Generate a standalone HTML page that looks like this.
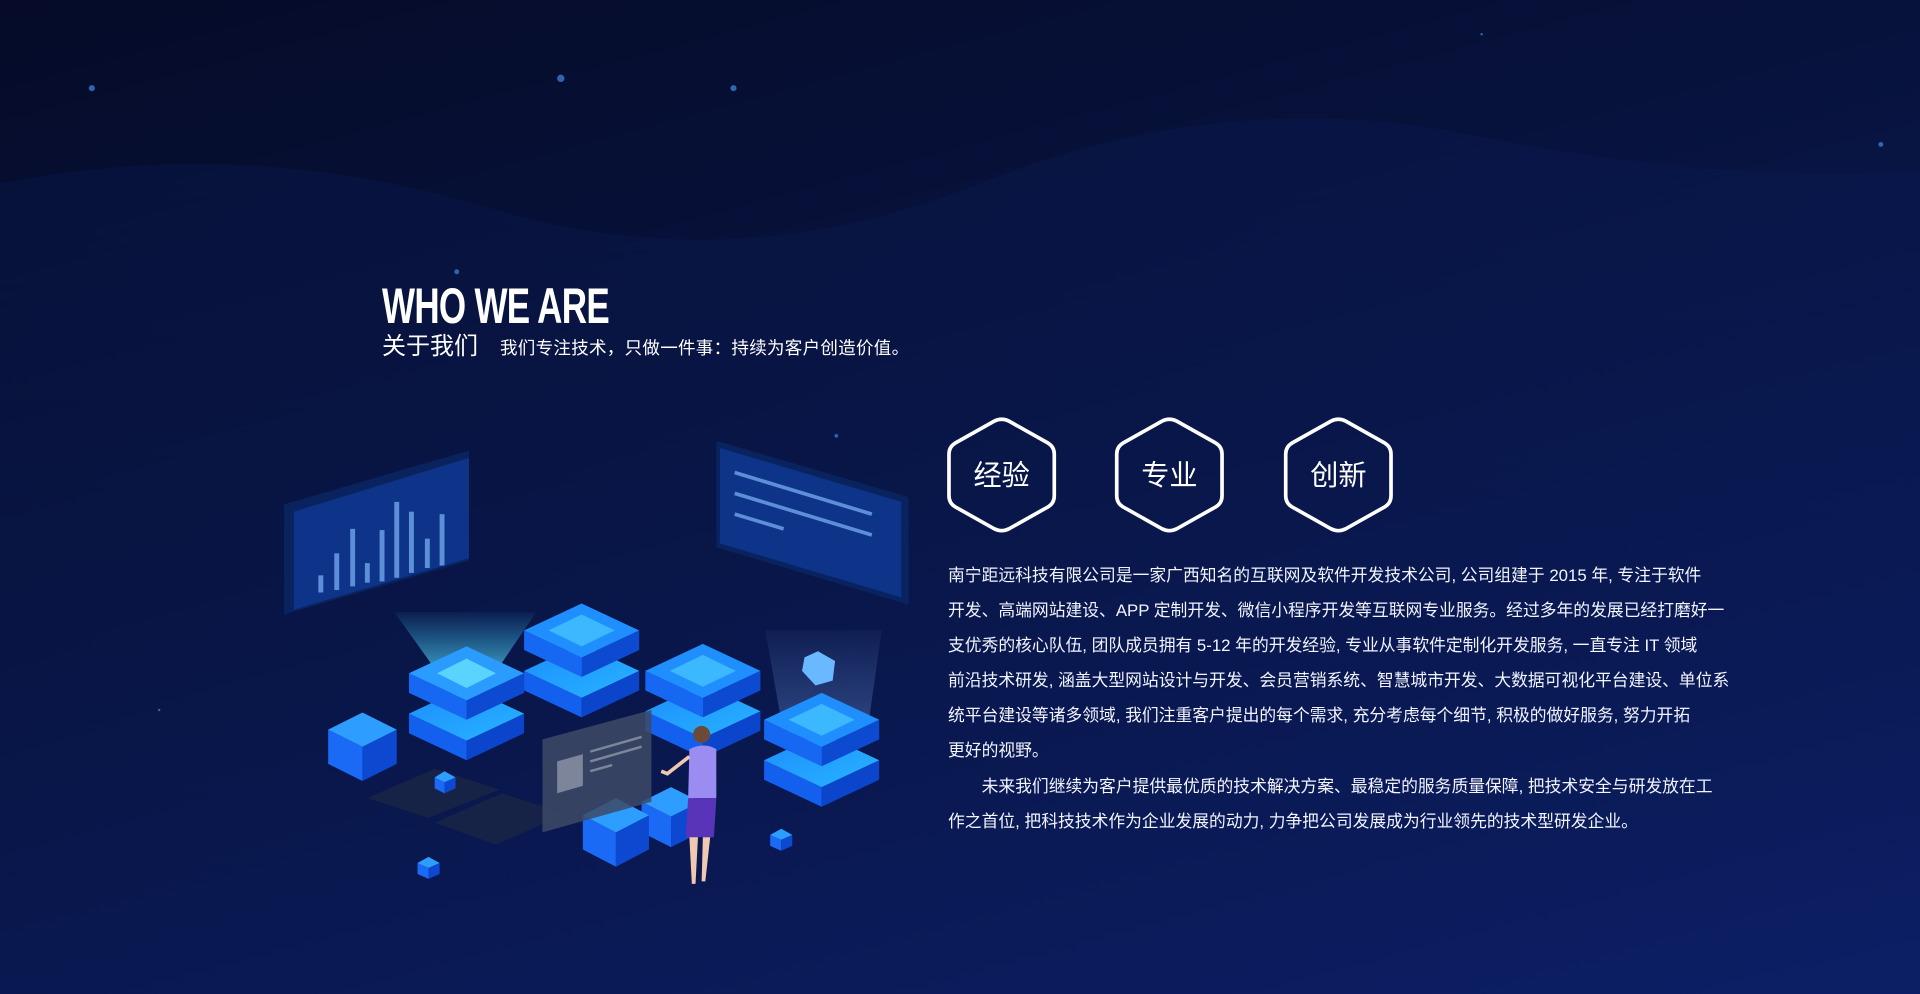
<!DOCTYPE html>
<html><head><meta charset="utf-8">
<style>
html,body{margin:0;padding:0}
body{width:1920px;height:994px;overflow:hidden;position:relative;
background:linear-gradient(165deg,#050b28 0%,#07123c 35%,#0a1a56 75%,#0c1f66 100%);
font-family:"Liberation Sans","Noto Sans CJK SC",sans-serif;color:#fff}
svg.bg{position:absolute;left:0;top:0}
.t1{position:absolute;left:382px;top:278px;font-size:50px;font-weight:bold;transform:scaleX(0.7);transform-origin:left top;letter-spacing:-1px;line-height:56px}
.t2{position:absolute;left:382px;top:332px;font-size:24px;line-height:30px}
.t3{position:absolute;left:500px;top:336px;font-size:17.5px;line-height:24px;letter-spacing:0.3px}
.p{position:absolute;left:948px;top:558px;font-size:16.8px;line-height:35.1px;white-space:nowrap;color:#f2f4ff}
</style></head><body>
<svg class="bg" width="1920" height="994" viewBox="0 0 1568 812" preserveAspectRatio="none">
<defs>
<linearGradient id="wave" x1="0" y1="0" x2="0" y2="1"><stop offset="0" stop-color="#0a1a55" stop-opacity="0.35"/><stop offset="1" stop-color="#0a1a55" stop-opacity="0"/></linearGradient>
<linearGradient id="beam" x1="0" y1="0" x2="0" y2="1"><stop offset="0" stop-color="#3fd8ff" stop-opacity="0.05"/><stop offset="1" stop-color="#5fe0ff" stop-opacity="0.75"/></linearGradient>
<linearGradient id="beam2" x1="0" y1="0" x2="0" y2="1"><stop offset="0" stop-color="#8ab8ff" stop-opacity="0.05"/><stop offset="1" stop-color="#8ab8ff" stop-opacity="0.3"/></linearGradient>
<linearGradient id="top" x1="0" y1="0" x2="1" y2="1"><stop offset="0" stop-color="#1d8cff"/><stop offset="1" stop-color="#27b4ff"/></linearGradient>
</defs>
<path d="M0 150 Q200 110 400 170 T800 150 T1200 110 T1568 140 L1568 812 L0 812Z" fill="url(#wave)"/>
<g fill="#3a7bd5" opacity="0.8">
<circle cx="75" cy="72" r="2.5"/><circle cx="458" cy="64" r="3"/><circle cx="599" cy="72" r="2.5"/><circle cx="1536" cy="118" r="2"/><circle cx="373" cy="222" r="2"/><circle cx="683" cy="356" r="1.5"/><circle cx="130" cy="580" r="1"/><circle cx="1210" cy="28" r="1"/>
</g>
<polygon points="232,412 383,368 383,458 232,502" fill="#0a2a6a" opacity="0.7"/>
<polygon points="240,418 383,374 383,456 240,498" fill="#0d3488"/>
<g fill="#5d8fd8"><rect x="260" y="470" width="4" height="14"/><rect x="273" y="452" width="4" height="30"/><rect x="286" y="432" width="4" height="47"/><rect x="298" y="460" width="4" height="16"/><rect x="310" y="433" width="4" height="42"/><rect x="322" y="410" width="4" height="62"/><rect x="334" y="418" width="4" height="50"/><rect x="347" y="440" width="4" height="24"/><rect x="359" y="420" width="4" height="42"/></g>
<polygon points="585,360 742,406 742,494 585,447" fill="#0a2a6a" opacity="0.7"/>
<polygon points="588,366 736,410 736,488 588,444" fill="#0d3488"/>
<g stroke="#5d8fd8" stroke-width="3"><line x1="600" y1="386" x2="712" y2="420"/><line x1="600" y1="403" x2="712" y2="437"/><line x1="600" y1="420" x2="640" y2="432"/></g>
<polygon points="322,500 438,500 400,556 362,556" fill="url(#beam)"/>
<polygon points="625,515 720,515 708,600 640,600" fill="url(#beam2)"/>
<polygon points="300,652 355,628 408,645 350,668" fill="#1a2545" opacity="0.8"/>
<polygon points="355,672 410,648 462,665 405,690" fill="#1a2545" opacity="0.8"/>
<g>
<polygon points="334,583 381,605 381,621 334,599" fill="#1460ee"/><polygon points="428,583 381,605 381,621 428,599" fill="#0b45cc"/><polygon points="381,561 428,583 381,605 334,583" fill="url(#top)"/>
<polygon points="334,550 381,572 381,588 334,566" fill="#1668f2"/><polygon points="428,550 381,572 381,588 428,566" fill="#0c4ad2"/><polygon points="381,528 428,550 381,572 334,550" fill="#2a9cff"/><polygon points="381,538 405,550 381,562 357,550" fill="#5ad4ff"/>
<polygon points="428,548 475,570 475,586 428,564" fill="#1460ee"/><polygon points="522,548 475,570 475,586 522,564" fill="#0b45cc"/><polygon points="475,526 522,548 475,570 428,548" fill="url(#top)"/>
<polygon points="428,515 475,537 475,553 428,531" fill="#1668f2"/><polygon points="522,515 475,537 475,553 522,531" fill="#0c4ad2"/><polygon points="475,493 522,515 475,537 428,515" fill="#1f8fff"/><polygon points="475,502 502,515 475,528 448,515" fill="#3bb8ff"/>
<polygon points="527,581 574,603 574,619 527,597" fill="#1460ee"/><polygon points="621,581 574,603 574,619 621,597" fill="#0b45cc"/><polygon points="574,559 621,581 574,603 527,581" fill="url(#top)"/>
<polygon points="527,548 574,570 574,586 527,564" fill="#1668f2"/><polygon points="621,548 574,570 574,586 621,564" fill="#0c4ad2"/><polygon points="574,526 621,548 574,570 527,548" fill="#1f8fff"/><polygon points="574,535 601,548 574,561 547,548" fill="#3bb8ff"/>
<polygon points="624,621 671,643 671,659 624,637" fill="#1460ee"/><polygon points="718,621 671,643 671,659 718,637" fill="#0b45cc"/><polygon points="671,599 718,621 671,643 624,621" fill="url(#top)"/>
<polygon points="624,588 671,610 671,626 624,604" fill="#1668f2"/><polygon points="718,588 671,610 671,626 718,604" fill="#0c4ad2"/><polygon points="671,566 718,588 671,610 624,588" fill="#1f8fff"/><polygon points="671,575 698,588 671,601 644,588" fill="#3bb8ff"/>
</g>
<polygon points="668,532 682,540 680,556 666,560 655,548 657,537" fill="#6ab8ff"/>
<g>
<polygon points="268,596 296,610 296,638 268,624" fill="#1a6af5"/><polygon points="324,596 296,610 296,638 324,624" fill="#0d48d0"/><polygon points="296,582 324,596 296,610 268,596" fill="#2d9dff"/>
<polygon points="524,655 548,667 548,692 524,680" fill="#1a6af5"/><polygon points="572,655 548,667 548,692 572,680" fill="#0d48d0"/><polygon points="548,643 572,655 548,667 524,655" fill="#2d9dff"/>
<polygon points="476,666 503,680 503,708 476,694" fill="#1a6af5"/><polygon points="530,666 503,680 503,708 530,694" fill="#0d48d0"/><polygon points="503,652 530,666 503,680 476,666" fill="#2d9dff"/>
<polygon points="355,635 363,639 363,648 355,644" fill="#1a6af5"/><polygon points="372,635 363,639 363,648 372,644" fill="#0d48d0"/><polygon points="363,630 372,635 363,639 355,635" fill="#2d9dff"/>
<polygon points="341,705 350,709 350,718 341,714" fill="#1a6af5"/><polygon points="359,705 350,709 350,718 359,714" fill="#0d48d0"/><polygon points="350,700 359,705 350,709 341,705" fill="#2d9dff"/>
<polygon points="629,682 638,686 638,695 629,691" fill="#1a6af5"/><polygon points="647,682 638,686 638,695 647,691" fill="#0d48d0"/><polygon points="638,677 647,682 638,686 629,682" fill="#2d9dff"/>
</g>
<polygon points="443,604 532,580 532,655 443,680" fill="#3d4a66" opacity="0.85"/>
<polygon points="455,622 476,616 476,642 455,648" fill="#7c8599"/>
<g stroke="#7c8599" stroke-width="2"><line x1="482" y1="614" x2="524" y2="602"/><line x1="482" y1="622" x2="524" y2="610"/><line x1="482" y1="630" x2="500" y2="625"/></g>
<circle cx="573" cy="600" r="7" fill="#6b4a3a"/>
<path d="M563 612 Q575 606 585 612 L585 652 L562 652Z" fill="#9a8cf0"/>
<path d="M562 652 L585 652 L583 684 L560 684Z" fill="#5a34b8"/>
<path d="M563 684 L570 684 L568 722 L565 722Z M574 684 L580 684 L576 720 L573 720Z" fill="#f0c9b0"/>
<path d="M563 618 L545 632 L540 630" stroke="#f0c9b0" stroke-width="3" fill="none"/>
<g fill="none" stroke="#fff" stroke-width="3" stroke-linejoin="round">
<path d="M812 344 Q818 341 824 344 L856 362 Q861 365 861 371 L861 405 Q861 411 856 414 L824 432 Q818 435 812 432 L780 414 Q775 411 775 405 L775 371 Q775 365 780 362Z"/>
<path d="M949 344 Q955 341 961 344 L993 362 Q998 365 998 371 L998 405 Q998 411 993 414 L961 432 Q955 435 949 432 L917 414 Q912 411 912 405 L912 371 Q912 365 917 362Z"/>
<path d="M1087 344 Q1093 341 1099 344 L1131 362 Q1136 365 1136 371 L1136 405 Q1136 411 1131 414 L1099 432 Q1093 435 1087 432 L1055 414 Q1050 411 1050 405 L1050 371 Q1050 365 1055 362Z"/>
</g>
<g fill="#fff" font-size="23" text-anchor="middle" font-family="Liberation Sans, Noto Sans CJK SC, sans-serif">
<text x="818" y="396">经验</text><text x="955" y="396">专业</text><text x="1093" y="396">创新</text>
</g>
</svg>
<div class="t1">WHO WE ARE</div>
<div class="t2">关于我们</div>
<div class="t3">我们专注技术，只做一件事：持续为客户创造价值。</div>
<div class="p">南宁距远科技有限公司是一家广西知名的互联网及软件开发技术公司, 公司组建于 2015 年, 专注于软件<br>开发、高端网站建设、APP 定制开发、微信小程序开发等互联网专业服务。经过多年的发展已经打磨好一<br>支优秀的核心队伍, 团队成员拥有 5-12 年的开发经验, 专业从事软件定制化开发服务, 一直专注 IT 领域<br>前沿技术研发, 涵盖大型网站设计与开发、会员营销系统、智慧城市开发、大数据可视化平台建设、单位系<br>统平台建设等诸多领域, 我们注重客户提出的每个需求, 充分考虑每个细节, 积极的做好服务, 努力开拓<br>更好的视野。<br>&emsp;&emsp;未来我们继续为客户提供最优质的技术解决方案、最稳定的服务质量保障, 把技术安全与研发放在工<br>作之首位, 把科技技术作为企业发展的动力, 力争把公司发展成为行业领先的技术型研发企业。</div>
</body></html>
